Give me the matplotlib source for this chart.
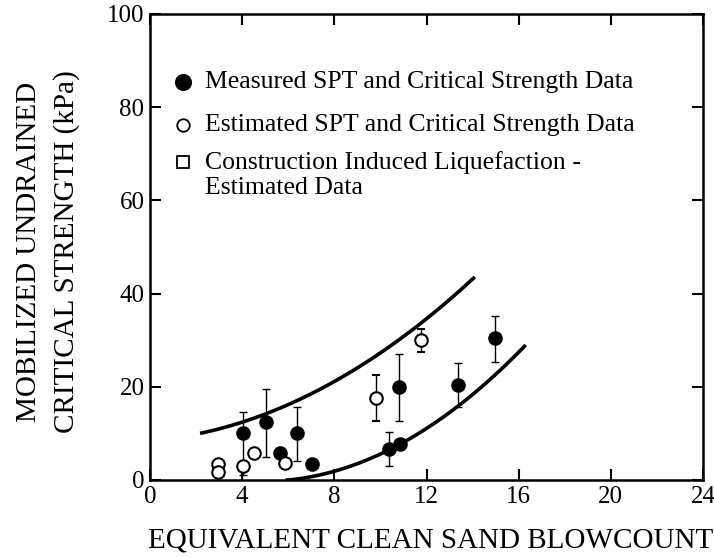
import numpy as np
import matplotlib.pyplot as plt

plt.rcParams['font.family'] = ['Liberation Serif', 'DejaVu Serif']

# measured SPT / critical strength points
meas_n = [4.04, 5.02, 5.64, 6.36, 7.02, 10.36, 10.85, 10.8, 13.36, 14.97]
meas_s = [10.0, 12.5, 5.7, 10.0, 3.4, 6.6, 7.7, 20.0, 20.4, 30.5]
meas_lo = [9.0, 7.5, 0.0, 5.9, 0.0, 3.7, 0.0, 7.4, 4.7, 5.1]
meas_hi = [4.5, 7.0, 0.0, 5.7, 0.0, 3.6, 0.0, 7.1, 4.8, 4.6]

# estimated points
est_n = [2.95, 2.95, 4.04, 4.52, 5.85, 9.82, 11.75]
est_s = [3.4, 1.8, 3.0, 5.7, 3.6, 17.6, 30.0]
est_lo = [0.0, 0.0, 0.0, 0.0, 0.0, 5.0, 2.5]
est_hi = [0.0, 0.0, 0.0, 0.0, 0.0, 4.9, 2.5]

# bounding curves
upper_n = [2.25, 6.6, 9.4, 11.6, 14.04]
upper_s = [10.0, 17.9, 25.0, 33.0, 43.4]
lower_n = [5.96, 8.0, 10.36, 11.6, 13.36, 16.25]
lower_s = [0.0, 1.8, 6.4, 10.0, 15.7, 28.7]

# key entries: marker, face colour, size, text lines
key_marks = ['o', 'o', 's']
key_faces = ['black', 'white', 'white']
key_sizes = [11, 9, 9]
key_text = [['Measured SPT and Critical Strength Data'],
            ['Estimated SPT and Critical Strength Data'],
            ['Construction Induced Liquefaction -', 'Estimated Data']]
key_rows = [0.854, 0.762, 0.682]

fig = plt.figure(figsize=(7.14, 5.58), dpi=100)
# axes box: x 150..703 px, y 14..480 px
ax = fig.add_axes([150 / 714, 1 - 480 / 558, 553 / 714, 466 / 558])

un = np.linspace(upper_n[0], upper_n[-1], 120)
ln = np.linspace(lower_n[0], lower_n[-1], 120)
up = np.polyfit(upper_n, upper_s, 2)
lp = np.polyfit(lower_n, lower_s, 2)
ax.plot(un, np.polyval(up, un), color='black', lw=2.6, zorder=2)
ax.plot(ln, np.clip(np.polyval(lp, ln), 0, None), color='black', lw=2.6, zorder=2)

ax.errorbar(meas_n, meas_s, yerr=[meas_lo, meas_hi], fmt='o', color='black',
            mfc='black', mec='black', ms=9.5, ecolor='black', elinewidth=1,
            capsize=3, capthick=1, zorder=3)
ax.errorbar(est_n, est_s, yerr=[est_lo, est_hi], fmt='o', color='black',
            mfc='white', mec='black', mew=1.5, ms=9, ecolor='black',
            elinewidth=1, capsize=3, capthick=1, zorder=3)

ax.set_xlim(0, 24)
ax.set_ylim(0, 100)
ax.set_xticks(np.arange(0, 25, 4))
ax.set_yticks(np.arange(0, 101, 20))
ax.tick_params(direction='in', length=8, width=1.5, top=True, right=True,
               labelsize=18, pad=4)
for sp in ax.spines.values():
    sp.set_linewidth(1.8)

fig.text(431 / 714, 1 - 541 / 558, 'EQUIVALENT CLEAN SAND BLOWCOUNT',
         fontsize=21, ha='center', va='center')
fig.text(48 / 714, 1 - 252 / 558, 'MOBILIZED UNDRAINED\nCRITICAL STRENGTH (kPa)',
         fontsize=21, rotation=90, ha='center', va='center',
         multialignment='center', linespacing=1.55)

# key, drawn by hand in axes fractions
for mk, fc, size, lines, yy in zip(key_marks, key_faces, key_sizes, key_text, key_rows):
    ax.plot([0.0597], [yy], marker=mk, ms=size, mfc=fc, mec='black', mew=1.3,
            ls='none', transform=ax.transAxes, clip_on=False)
    for i, line in enumerate(lines):
        ax.text(0.0995, yy - i * 0.056, line, transform=ax.transAxes,
                fontsize=18.5, va='center')

fig.savefig('out.png', dpi=100)
